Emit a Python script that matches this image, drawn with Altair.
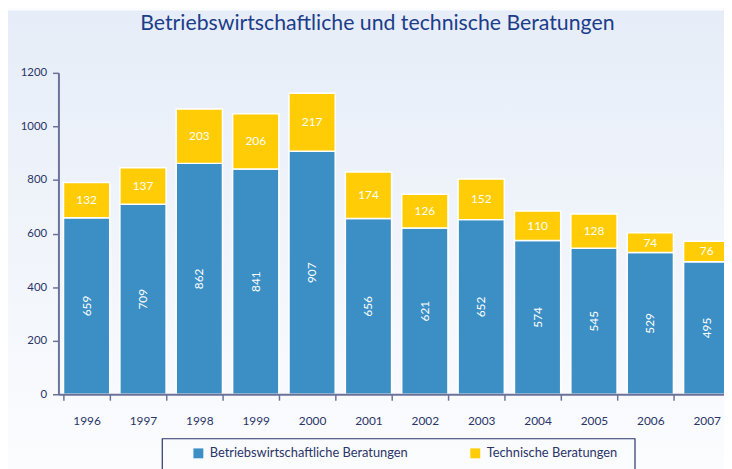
import altair as alt
import pandas as pd

years = ["1996", "1997", "1998", "1999", "2000", "2001", "2002", "2003", "2004", "2005", "2006", "2007"]
betrieb = [659, 709, 862, 841, 907, 656, 621, 652, 574, 545, 529, 495]
technisch = [132, 137, 203, 206, 217, 174, 126, 152, 110, 128, 74, 76]

B = "Betriebswirtschaftliche Beratungen"
T = "Technische Beratungen"
BLUE = "#3c8fc5"
YELLOW = "#ffcc05"
NAVY = "#2a3468"
AXIS = "#6b7299"
FONT = "Lato"

df = pd.DataFrame({"Jahr": years, B: betrieb, T: technisch})

xenc = alt.X("Jahr:N", sort=years,
             scale=alt.Scale(range=[0, 684], paddingInner=0.18, paddingOuter=0.09),
             axis=alt.Axis(title=None, labelAngle=0, tickBand="extent", tickSize=6,
                           labelPadding=16, labelFontSize=12, labelColor=NAVY, labelFont=FONT,
                           domainColor=AXIS, tickColor=AXIS, domainWidth=2, tickWidth=1.5,
                           zindex=2))

yscale = alt.Scale(domain=[0, 1200], nice=False)

bg = alt.Chart(pd.DataFrame({"a": [0]})).mark_rect(
    fill=alt.LinearGradient(gradient="linear", x1=0, x2=0, y1=0, y2=1,
                            stops=[alt.GradientStop(offset=0, color="#e6edf8"),
                                   alt.GradientStop(offset=1, color="#fbfcfe")])
).encode(x=alt.value(-51), x2=alt.value(673), y=alt.value(-63), y2=alt.value(398))

box = alt.Chart(pd.DataFrame({"a": [0]})).mark_rect(
    filled=False, stroke=NAVY, strokeWidth=1.2
).encode(x=alt.value(105), x2=alt.value(583), y=alt.value(370), y2=alt.value(420))

bars = alt.Chart(df).transform_fold([B, T], as_=["Art", "Wert"]).transform_calculate(
    ordnung=f"datum.Art == '{B}' ? 0 : 1"
).mark_bar(stroke="white", strokeWidth=1.5).encode(
    x=xenc,
    y=alt.Y("Wert:Q", stack="zero", scale=yscale,
            axis=alt.Axis(title=None, values=[0, 200, 400, 600, 800, 1000, 1200], format="d",
                          tickSize=6, labelPadding=6, labelFontSize=11.5, labelColor=NAVY,
                          labelFont=FONT, domainColor=AXIS, tickColor=AXIS, domainWidth=2,
                          tickWidth=1.5, grid=False, zindex=2)),
    color=alt.Color("Art:N", scale=alt.Scale(domain=[B, T], range=[BLUE, YELLOW]),
                    legend=alt.Legend(title=None, orient="none", legendX=135, legendY=378,
                                      direction="horizontal", columns=2, symbolType="square",
                                      symbolSize=100, symbolStrokeWidth=0, labelFontSize=13,
                                      labelColor=NAVY, labelFont=FONT, columnPadding=61,
                                      labelOffset=5, padding=0, labelLimit=400, zindex=2)),
    order=alt.Order("ordnung:Q"),
)

txt_b = alt.Chart(df).transform_calculate(
    mid=f"datum['{B}'] / 2"
).mark_text(angle=270, color="white", fontSize=12, font=FONT).encode(
    x=alt.X("Jahr:N", sort=years),
    y=alt.Y("mid:Q"),
    text=alt.Text(f"{B}:Q"),
)

txt_t = alt.Chart(df).transform_calculate(
    mid=f"datum['{B}'] + datum['{T}'] / 2"
).mark_text(color="white", fontSize=12, font=FONT).encode(
    x=alt.X("Jahr:N", sort=years),
    y=alt.Y("mid:Q"),
    text=alt.Text(f"{T}:Q"),
)

chart = alt.layer(bg, bars, txt_b, txt_t, box).properties(
    width=673, height=325,
    autosize=alt.AutoSizeParams(type="none"),
    padding={"left": 51, "top": 63, "right": 0, "bottom": 73},
    background="#fbfcfe",
    title=alt.Title("Betriebswirtschaftliche und technische Beratungen", fontSize=21.5,
                    font=FONT, fontWeight="normal", color="#1c3d8a", dx=-14, offset=-24,
                    anchor="middle", frame="group", zindex=2),
).configure_view(stroke=None)

chart.save("out.html", embed_options={"renderer": "svg", "actions": False})
